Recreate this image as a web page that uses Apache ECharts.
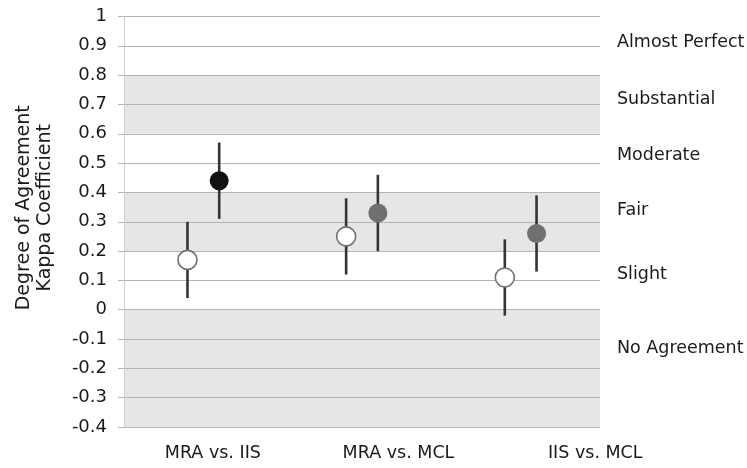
<!DOCTYPE html>
<html>
<head>
<meta charset="utf-8">
<script src="https://cdn.jsdelivr.net/npm/echarts@6/dist/echarts.min.js"></script>
<style>html,body{margin:0;padding:0;background:#fff}#c{width:747px;height:468px}</style>
</head>
<body>
<div id="c"></div>
<script>
// ---- data ----
const categories = ['MRA vs. IIS', 'MRA vs. MCL', 'IIS vs. MCL'];
const categoryLabelPos = [0.56, 1.73, 2.97];
const posA = [0.4, 1.4, 2.4];
const posB = [0.6, 1.6, 2.6];
const kappaA = [0.17, 0.25, 0.11];
const lowA = [0.04, 0.12, -0.02];
const highA = [0.30, 0.38, 0.24];
const kappaB = [0.44, 0.33, 0.26];
const lowB = [0.31, 0.20, 0.13];
const highB = [0.57, 0.46, 0.39];
const colorB = ['#111111', '#707070', '#707070'];
const bands = [[0.6, 0.8], [0.2, 0.4], [-0.4, 0]];
const levelNames = ['Almost Perfect', 'Substantial', 'Moderate', 'Fair', 'Slight', 'No Agreement'];
const levelPos = [0.91, 0.717, 0.527, 0.34, 0.12, -0.132];

const FONT = 'DejaVu Sans';
const chart = echarts.init(document.getElementById('c'), null, {renderer: 'canvas'});

const errData = [];
for (let i = 0; i < categories.length; i++) {
  errData.push([posA[i], lowA[i], highA[i]]);
  errData.push([posB[i], lowB[i], highB[i]]);
}

chart.setOption({
  animation: false,
  backgroundColor: '#fff',
  grid: {left: 124, right: 147, top: 16.5, bottom: 41},
  xAxis: {
    type: 'value', min: 0, max: 3,
    axisLine: {show: false},
    axisTick: {show: false},
    splitLine: {show: false},
    axisLabel: {
      customValues: categoryLabelPos,
      formatter: function (v) {
        let best = 0;
        for (let i = 0; i < categoryLabelPos.length; i++) {
          if (Math.abs(categoryLabelPos[i] - v) < Math.abs(categoryLabelPos[best] - v)) best = i;
        }
        return categories[best];
      },
      color: '#1a1a1a', fontFamily: FONT, fontSize: 17.5, margin: 17
    }
  },
  yAxis: {
    type: 'value', min: -0.4, max: 1, interval: 0.1,
    name: 'Degree of Agreement\nKappa Coefficient',
    nameLocation: 'middle', nameGap: 68, nameRotate: 90,
    nameTextStyle: {color: '#1a1a1a', fontFamily: FONT, fontSize: 19, lineHeight: 21, padding: [0, 0, 0, 28]},
    axisLine: {show: true, lineStyle: {color: '#cfcfcf', width: 1}},
    axisTick: {show: true, length: 6, lineStyle: {color: '#b4b4b4'}},
    splitLine: {show: true, lineStyle: {color: '#b4b4b4', width: 1}},
    axisLabel: {
      color: '#1a1a1a', fontFamily: FONT, fontSize: 18, margin: 17,
      formatter: function (v) { const r = Math.round(v * 10) / 10; return r === 0 ? '0' : String(r); }
    }
  },
  series: [
    {
      type: 'custom',
      name: 'bands',
      silent: true,
      z: 0,
      data: bands.map(b => [0, b[0], 3, b[1]]),
      renderItem: function (params, api) {
        const p1 = api.coord([api.value(0), api.value(3)]);
        const p2 = api.coord([api.value(2), api.value(1)]);
        return {type: 'rect', shape: {x: p1[0], y: p1[1], width: p2[0] - p1[0], height: p2[1] - p1[1]},
          style: {fill: '#e6e6e6'}, z2: -10};
      }
    },
    {
      type: 'custom',
      name: 'err',
      z: 3,
      data: errData,
      renderItem: function (params, api) {
        const a = api.coord([api.value(0), api.value(1)]);
        const b = api.coord([api.value(0), api.value(2)]);
        return {type: 'line', shape: {x1: a[0], y1: a[1], x2: b[0], y2: b[1]},
          style: {stroke: '#333333', lineWidth: 2.6}};
      }
    },
    {
      type: 'scatter', name: 'A', z: 5,
      symbol: 'circle', symbolSize: 19,
      itemStyle: {color: '#ffffff', borderColor: '#707070', borderWidth: 1.6, opacity: 1},
      data: kappaA.map((v, i) => [posA[i], v])
    },
    {
      type: 'scatter', name: 'B', z: 5,
      symbol: 'circle', symbolSize: 19,
      itemStyle: {opacity: 1},
      data: kappaB.map((v, i) => ({value: [posB[i], v], itemStyle: {color: colorB[i], opacity: 1}}))
    },
    {
      type: 'scatter', name: 'levels', silent: true,
      symbolSize: 0,
      itemStyle: {opacity: 1},
      data: levelNames.map((n, i) => ({value: [3, levelPos[i]], name: n})),
      label: {show: true, position: 'right', distance: 17, formatter: '{b}',
        color: '#1a1a1a', fontFamily: FONT, fontSize: 17.5}
    }
  ]
});
</script>
</body>
</html>
